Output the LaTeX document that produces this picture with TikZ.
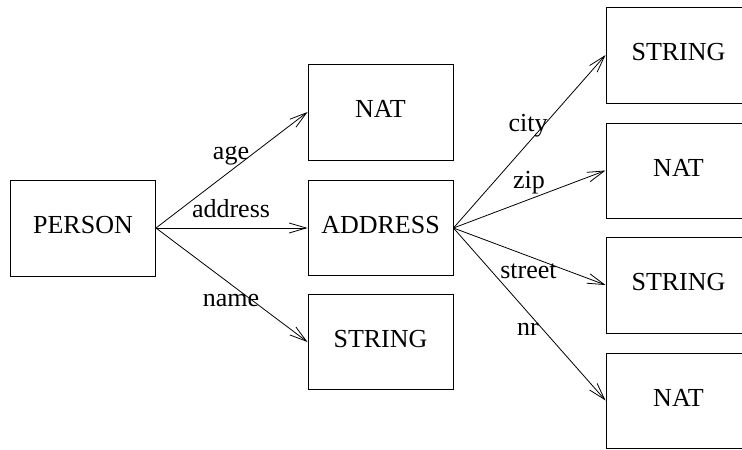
\documentclass[tikz,border=0pt]{standalone}
\usepackage{fontspec}
\setmainfont{Liberation Serif}
\usetikzlibrary{arrows.meta}
\begin{document}
\begin{tikzpicture}[x=1pt,y=-1pt,
  box/.style={draw,line width=0.9pt,minimum width=145pt,minimum height=96pt,inner sep=0pt,
    text height=17.5pt,text depth=6pt,font=\fontsize{26pt}{30pt}\selectfont},
  lbl/.style={anchor=base,inner sep=0pt,font=\fontsize{26pt}{30pt}\selectfont},
  conn/.style={line width=0.8pt,-{Straight Barb[length=17pt,width=10pt,line width=0.8pt]}}]
\useasboundingbox (0,0) rectangle (742,450);
\node[box] (person) at (83,228) {PERSON};
\node[box] (nat1) at (380.5,112) {NAT};
\node[box,minimum height=95pt] (address) at (380.5,228) {ADDRESS};
\node[box,minimum height=95pt] (str1) at (380.5,342) {STRING};
\node[box] (str2) at (678.5,55) {STRING};
\node[box,minimum height=95pt] (nat2) at (678.5,170.5) {NAT};
\node[box] (str3) at (678.5,285) {STRING};
\node[box,minimum height=95pt] (nat3) at (678.5,400.5) {NAT};
\draw[conn] (person.east) -- (nat1.west);
\draw[conn] (person.east) -- (address.west);
\draw[conn] (person.east) -- (str1.west);
\draw[conn] (address.east) -- (str2.west);
\draw[conn] (address.east) -- (nat2.west);
\draw[conn] (address.east) -- (str3.west);
\draw[conn] (address.east) -- (nat3.west);
\node[lbl] (lage) at (231,159) {age};
\node[lbl] (laddr) at (231,217) {address};
\node[lbl] (lname) at (231,306.5) {name};
\node[lbl] (lcity) at (528,131.5) {city};
\node[lbl] (lzip) at (529,188) {zip};
\node[lbl] (lstreet) at (528.5,278) {street};
\node[lbl] (lnr) at (528,335) {nr};
\end{tikzpicture}
\end{document}
